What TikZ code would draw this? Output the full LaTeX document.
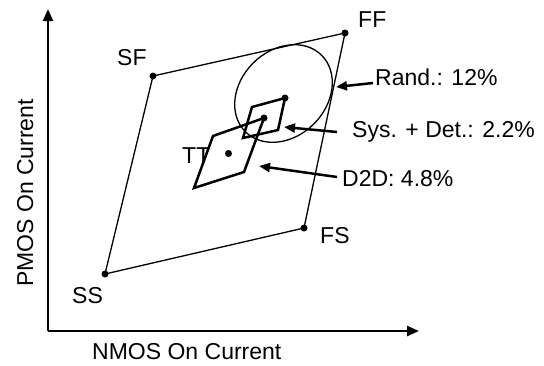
\documentclass[tikz,border=0pt]{standalone}
\usepackage{fontspec}
\setmainfont{Liberation Sans}
\usetikzlibrary{arrows.meta}
\begin{document}
\begin{tikzpicture}[x=1pt,y=-1pt,
  lbl/.style={font=\fontsize{23}{27}\selectfont, inner sep=0pt, anchor=base west},
  thinline/.style={line width=1.3pt},
  thickline/.style={line width=2.5pt, line join=miter},
  axisline/.style={line width=2.5pt, -{Triangle[length=12pt,width=10pt]}},
  callout/.style={line width=2.5pt, -{Triangle[length=11pt,width=9pt]}},
  dotmark/.style={circle, fill=black, inner sep=0pt, minimum size=7pt}]
\useasboundingbox (0,0) rectangle (544,365);
% axes
\coordinate (O) at (48,331);
\coordinate (Ytip) at (48,9);
\coordinate (Xtip) at (419,331);
\draw[axisline] (O) -- (Ytip);
\draw[axisline] (O) -- (Xtip);
\node[lbl] (xlab) at (92,359) {NMOS On Current};
\node[lbl, anchor=base, rotate=90] (ylab) at (33,193) {PMOS On Current};
% corner quadrilateral
\node[dotmark] (SS) at (105,274) {};
\node[dotmark] (SF) at (153,76) {};
\node[dotmark] (FF) at (345,33) {};
\node[dotmark] (FS) at (304,228) {};
\draw[thinline] (SS.center) -- (SF.center) -- (FF.center) -- (FS.center) -- cycle;
\node[lbl] (SSl) at (72,303) {SS};
\node[lbl] (SFl) at (117,65) {SF};
\node[lbl] (FFl) at (358,27) {FF};
\node[lbl] (FSl) at (320,243) {FS};
% random ellipse
\node (ell) at (283.5,93.5) {};
\draw[thinline, rotate around={45:(ell.center)}] (ell.center) ellipse [x radius=54, y radius=43];
% D2D parallelogram
\coordinate (A1) at (213,136);
\coordinate (A2) at (264,118);
\coordinate (A3) at (244,172);
\coordinate (A4) at (194,188);
\draw[thickline] (A1) -- (A2) -- (A3) -- (A4) -- cycle;
\node[dotmark] (TT) at (228.5,153.5) {};
\node[dotmark] (A2d) at (A2) {};
\node[lbl] (TTl) at (182,163) {TT};
% Sys + Det parallelogram
\coordinate (B1) at (252,107);
\coordinate (B2) at (285,98);
\coordinate (B3) at (278,130);
\coordinate (B4) at (243,138);
\draw[thickline] (B1) -- (B2) -- (B3) -- (B4) -- cycle;
\node[dotmark] (B2d) at (B2) {};
% callouts
\node[lbl] (rand) at (375,85) {Rand.: 12\%};
\node[lbl] (sys) at (352,137) {Sys. + Det.: 2.2\%};
\node[lbl] (d2d) at (342,186) {D2D: 4.8\%};
\coordinate (randT) at (373,83);
\coordinate (randH) at (336,87);
\coordinate (sysT) at (337,132);
\coordinate (sysH) at (284,127);
\coordinate (d2dT) at (337,177);
\coordinate (d2dH) at (259,166);
\draw[callout] (randT) -- (randH);
\draw[callout] (sysT) -- (sysH);
\draw[callout] (d2dT) -- (d2dH);
\end{tikzpicture}
\end{document}
